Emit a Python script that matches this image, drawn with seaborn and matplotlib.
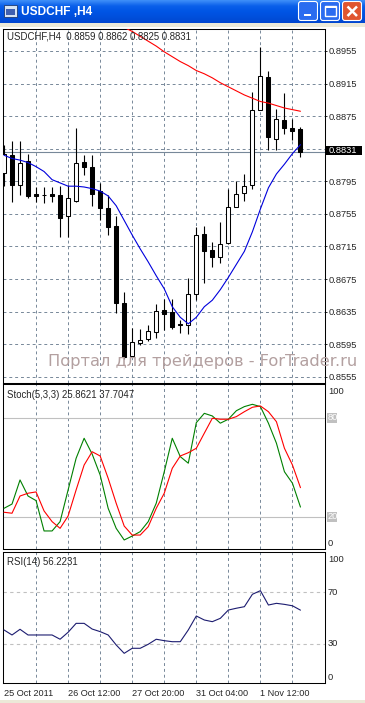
import numpy as np
import pandas as pd
import matplotlib
matplotlib.use("Agg")
import matplotlib.pyplot as plt
from matplotlib.patches import Rectangle, FancyBboxPatch
from matplotlib.colors import LinearSegmentedColormap
import seaborn as sns

# USDCHF H4 candles
opens = [0.8805, 0.8827, 0.8790, 0.8820, 0.8779, 0.8778, 0.8780, 0.8778, 0.8752, 0.8771,
         0.8819, 0.8813, 0.8783, 0.8762, 0.8740, 0.8646, 0.8580, 0.8597, 0.8601, 0.8610,
         0.8637, 0.8634, 0.8620, 0.8619, 0.8657, 0.8730, 0.8711, 0.8702, 0.8719, 0.8764,
         0.8781, 0.8790, 0.8883, 0.8923, 0.8847, 0.8870, 0.8860, 0.8859]
highs = [0.8840, 0.8844, 0.8845, 0.8829, 0.8788, 0.8788, 0.8788, 0.8789, 0.8790, 0.8860,
         0.8827, 0.8827, 0.8793, 0.8778, 0.8752, 0.8659, 0.8615, 0.8614, 0.8619, 0.8644,
         0.8650, 0.8650, 0.8625, 0.8676, 0.8739, 0.8740, 0.8721, 0.8745, 0.8786, 0.8795,
         0.8804, 0.8905, 0.8960, 0.8931, 0.8884, 0.8904, 0.8871, 0.8862]
lows = [0.8789, 0.8769, 0.8778, 0.8775, 0.8769, 0.8768, 0.8770, 0.8727, 0.8727, 0.8770,
        0.8803, 0.8765, 0.8748, 0.8729, 0.8633, 0.8577, 0.8579, 0.8594, 0.8599, 0.8603,
        0.8612, 0.8614, 0.8609, 0.8608, 0.8649, 0.8670, 0.8690, 0.8695, 0.8718, 0.8763,
        0.8771, 0.8785, 0.8882, 0.8834, 0.8833, 0.8853, 0.8846, 0.8825]
closes = [0.8829, 0.8791, 0.8818, 0.8777, 0.8777, 0.8778, 0.8777, 0.8750, 0.8775, 0.8818,
          0.8813, 0.8780, 0.8762, 0.8739, 0.8646, 0.8579, 0.8598, 0.8600, 0.8611, 0.8636,
          0.8632, 0.8616, 0.8619, 0.8657, 0.8729, 0.8710, 0.8702, 0.8718, 0.8763, 0.8780,
          0.8789, 0.8883, 0.8924, 0.8849, 0.8871, 0.8861, 0.8857, 0.8831]

# moving averages (blue = fast, red = slow, red starts at bar 15)
ma_fast = [0.8827, 0.8823, 0.8821, 0.8818, 0.8813, 0.8807, 0.8797, 0.8793, 0.8789, 0.8789,
           0.8788, 0.8786, 0.8783, 0.8777, 0.8765, 0.8747, 0.8729, 0.8712, 0.8696, 0.8679,
           0.8663, 0.8641, 0.8628, 0.8620, 0.8628, 0.8641, 0.8649, 0.8662, 0.8677, 0.8693,
           0.8709, 0.8733, 0.8761, 0.8787, 0.8804, 0.8816, 0.8829, 0.8840]
ma_slow_start = 15
ma_slow = [0.8984, 0.8979, 0.8973, 0.8967, 0.8961, 0.8954, 0.8948, 0.8942, 0.8937, 0.8931,
           0.8927, 0.8922, 0.8916, 0.8911, 0.8906, 0.8901, 0.8897, 0.8893, 0.8891, 0.8888,
           0.8885, 0.8883, 0.8881]

stoch_main = [25.1, 27.7, 42.4, 32.6, 29.8, 11.3, 11.3, 17.0, 36.3, 55.6,
              67.8, 58.2, 45.4, 25.1, 12.9, 5.8, 8.2, 10.9, 17.0, 28.2,
              47.4, 67.8, 56.6, 52.6, 77.3, 83.0, 81.4, 77.0, 79.4, 84.6,
              87.1, 88.5, 87.1, 77.0, 64.8, 47.4, 40.4, 25.8621]
stoch_signal = [22.7, 22.1, 32.6, 34.3, 35.1, 23.5, 17.0, 12.9, 20.4, 36.3,
                51.5, 59.6, 57.0, 43.4, 28.2, 14.3, 8.8, 8.8, 13.9, 25.1,
                34.3, 49.5, 57.0, 59.0, 61.7, 70.9, 80.0, 79.4, 79.4, 81.0,
                84.0, 86.7, 87.5, 84.0, 77.9, 61.7, 51.5, 37.7047]
rsi = [40.9, 37.0, 41.4, 37.0, 37.0, 37.0, 37.0, 33.7, 39.1, 46.0,
       46.0, 41.6, 39.6, 37.0, 29.3, 22.8, 26.7, 26.7, 29.8, 33.7,
       32.6, 31.8, 31.8, 40.9, 51.7, 48.6, 47.3, 49.9, 56.3, 57.7,
       58.9, 68.5, 71.3, 60.2, 61.5, 60.7, 59.6, 56.2231]

price_ticks = [0.8555, 0.8595, 0.8635, 0.8675, 0.8715, 0.8755, 0.8795, 0.8835, 0.8875, 0.8915, 0.8955]
date_pos = [0, 8, 16, 24, 32]
date_labels = ["25 Oct 2011", "26 Oct 12:00", "27 Oct 20:00", "31 Oct 04:00", "1 Nov 12:00"]
grid_pos = list(range(4, 40, 4))

sns.set_style("white")
plt.rcParams['font.family'] = ['Liberation Sans', 'DejaVu Sans']

W, H = 365, 703
fig = plt.figure(figsize=(W / 100, H / 100), dpi=100)
fig.patch.set_facecolor('white')


def box(x0, y0, x1, y1):
    return [x0 / W, 1 - y1 / H, (x1 - x0) / W, (y1 - y0) / H]


ax = fig.add_axes(box(3, 29, 324.5, 382.7))
ax_st = fig.add_axes(box(3, 384.3, 324.5, 549))
ax_rsi = fig.add_axes(box(3, 552.3, 324.5, 683.3))

df = pd.DataFrame({'o': opens, 'h': highs, 'l': lows, 'c': closes})
idx = np.arange(len(df))
up = df.c >= df.o

grid_kw = dict(color='#778899', lw=0.7, ls=(0, (3, 3)), zorder=1)
for a in (ax, ax_st, ax_rsi):
    for g in grid_pos:
        a.axvline(g, **grid_kw)
for p in price_ticks:
    ax.axhline(p, **grid_kw)

# candles
ax.axhline(closes[-1], color='#778899', lw=0.8, zorder=2)
ax.vlines(idx, df.l, df.h, color='black', lw=0.8, zorder=3)
ax.bar(idx, (df.c - df.o).abs(), bottom=df[['o', 'c']].min(axis=1), width=0.5,
       color=np.where(up, 'white', 'black'), edgecolor='black', linewidth=0.75, zorder=4)
sns.lineplot(x=idx, y=ma_fast, ax=ax, color='#0000DD', lw=0.8, zorder=5)
sns.lineplot(x=idx[ma_slow_start:], y=ma_slow, ax=ax, color='#FF0000', lw=0.8, zorder=5)

ax.set_xlim(-0.125, 40)
ax.set_ylim(0.85477, 0.89820)
ax.set_xticks([])
ax.set_yticks(price_ticks)
ax.set_yticklabels([f"{p:.4f}" for p in price_ticks])
ax.yaxis.tick_right()
ax.tick_params(axis='y', length=1.5, width=0.7, pad=1.5, labelsize=6.7, direction='out')

# stochastic
ax_st.axhline(80, color='#C0C0C0', lw=0.8, zorder=1)
ax_st.axhline(20, color='#C0C0C0', lw=0.8, zorder=1)
sns.lineplot(x=idx, y=stoch_main, ax=ax_st, color='#008000', lw=0.8, zorder=3)
sns.lineplot(x=idx, y=stoch_signal, ax=ax_st, color='#FF0000', lw=0.8, zorder=3)
ax_st.set_xlim(-0.125, 40)
ax_st.set_ylim(0.3, 100.7)
ax_st.set_xticks([])
ax_st.set_yticks([])

# RSI
ax_rsi.axhline(70, color='#C0C0C0', lw=0.8, ls=(0, (3, 3)), zorder=1)
ax_rsi.axhline(30, color='#C0C0C0', lw=0.8, ls=(0, (3, 3)), zorder=1)
sns.lineplot(x=idx, y=rsi, ax=ax_rsi, color='#1C1C70', lw=0.8, zorder=3)
ax_rsi.set_xlim(-0.125, 40)
ax_rsi.set_ylim(-0.4, 101)
ax_rsi.set_yticks([])
ax_rsi.set_xticks(date_pos)
ax_rsi.set_xticklabels(date_labels, ha='left')
ax_rsi.tick_params(axis='x', length=2.5, width=0.7, pad=1.5, labelsize=6.6, direction='out')

for a in (ax, ax_st, ax_rsi):
    a.set_xlabel('')
    a.set_ylabel('')
    for s in a.spines.values():
        s.set_color('black')
        s.set_linewidth(0.75)
        s.set_visible(True)

# window chrome and labels in pixel coordinates
deco = fig.add_axes([0, 0, 1, 1], zorder=10)
deco.patch.set_alpha(0)
cmap = LinearSegmentedColormap.from_list('xp', ['#3D8EF8', '#0A5FEA', '#0055E5', '#004FDC', '#0046D0'])
deco.imshow(np.linspace(0, 1, 30)[:, None], cmap=cmap, extent=(0, W, 23, 0), aspect='auto', zorder=0)
deco.add_patch(Rectangle((0, 23), W, 4, fc='#ECE9D8', ec='none'))
deco.add_patch(Rectangle((0, 699.5), W, 4, fc='#ECE9D8', ec='none'))

# title icon and caption
deco.add_patch(Rectangle((4, 5), 13, 12, fc='#D8E4F4', ec='#203A70', lw=0.6))
deco.add_patch(Rectangle((6, 9), 9, 6, fc='#4060B0', ec='none'))
deco.text(21, 12, 'USDCHF ,H4', color='white', fontsize=8.6, fontweight='bold', va='center')

# caption buttons
for bx, fc in ((298.5, '#2A6CF0'), (320.5, '#2A6CF0'), (342.5, '#E0552F')):
    deco.add_patch(FancyBboxPatch((bx, 1.5), 19, 19, boxstyle='round,pad=0,rounding_size=2.5',
                                  fc=fc, ec='white', lw=0.8))
deco.add_patch(Rectangle((303.5, 13.5), 7, 2.5, fc='white', ec='none'))
deco.add_patch(Rectangle((325, 5.5), 10.5, 10.5, fc='none', ec='white', lw=1.0))
deco.add_patch(Rectangle((325, 5.5), 10.5, 2, fc='white', ec='none'))
deco.plot([347.5, 357], [6.5, 16], color='white', lw=1.8, solid_capstyle='butt')
deco.plot([347.5, 357], [16, 6.5], color='white', lw=1.8, solid_capstyle='butt')

fs = 6.9
deco.text(7, 36.8, f"USDCHF,H4  {opens[-1]:.4f} {highs[-1]:.4f} {lows[-1]:.4f} {closes[-1]:.4f}",
          fontsize=fs, va='center')
deco.text(7, 394.5, f"Stoch(5,3,3) {stoch_main[-1]:.4f} {stoch_signal[-1]:.4f}", fontsize=fs, va='center')
deco.text(7, 562, f"RSI(14) {rsi[-1]:.4f}", fontsize=fs, va='center')

# current price box
deco.add_patch(Rectangle((326, 145.7), 35.7, 9.3, fc='black', ec='none', zorder=5))
deco.text(328.5, 150.6, f"{closes[-1]:.4f}", color='white', fontsize=6.7, va='center', zorder=6)

# stochastic / RSI level labels
deco.text(328, 391.7, '100', fontsize=6.7, va='center')
deco.text(328, 543.3, '0', fontsize=6.7, va='center')
for yy, lab in ((417.7, '80'), (516.7, '20')):
    deco.add_patch(Rectangle((327.3, yy - 5), 9.8, 10, fc='#C0C0C0', ec='none', zorder=5))
    deco.text(328, yy, lab, color='white', fontsize=6.7, va='center', zorder=6)
for yy, lab in ((560, '100'), (592.2, '70'), (643.3, '30'), (677.3, '0')):
    deco.text(328, yy, lab, fontsize=6.7, va='center')

deco.text(47.5, 361.5, 'Портал для трейдеров - ForTrader.ru', fontsize=11.7, color='#B3A0A0',
          family='DejaVu Sans', va='center', zorder=1)

deco.set_xlim(0, W)
deco.set_ylim(H, 0)
deco.axis('off')

fig.savefig('out.png', dpi=100, facecolor=fig.get_facecolor())
